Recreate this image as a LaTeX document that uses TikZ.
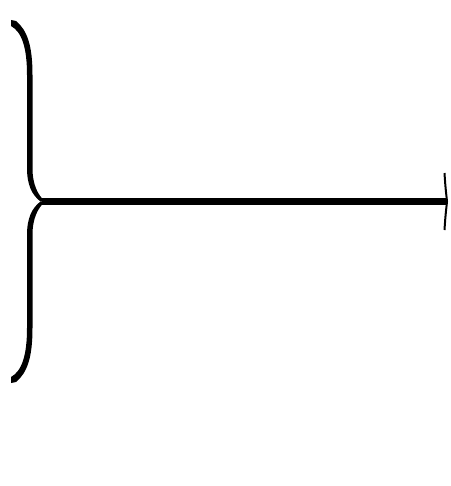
\documentclass[tikz,border=0pt]{standalone}
\begin{document}
\begin{tikzpicture}[x=1pt,y=-1pt]
\useasboundingbox (0,0) rectangle (450,486);
\tikzset{bracefill/.style={fill=black,draw=none}}
\coordinate (tip) at (42,201.5);
\coordinate (head) at (447,201.5);
% upper half of brace
\fill[bracefill] (11,20) -- (16,21) .. controls (27,30) and (32.5,45) .. (32.5,75) -- (32.5,168)
  .. controls (32.5,185) and (38,195) .. (45,201.5) -- (40.5,201.5)
  .. controls (32,195) and (27,185) .. (27,168) -- (27,75)
  .. controls (27,48) and (22,32) .. (11,26) -- cycle;
% lower half of brace
\fill[bracefill] (11,383) -- (16,382) .. controls (27,373) and (32.5,358) .. (32.5,328) -- (32.5,235)
  .. controls (32.5,218) and (38,208) .. (45,201.5) -- (40.5,201.5)
  .. controls (32,208) and (27,218) .. (27,235) -- (27,328)
  .. controls (27,355) and (22,371) .. (11,377) -- cycle;
% shaft
\draw[line width=6.5pt] (tip) -- (head);
% arrow head
\draw[line width=2pt] (444.5,173) .. controls (445.5,190) and (446.5,196) .. (447,201.5)
  .. controls (446.5,207) and (445.5,213) .. (444.5,230);
\end{tikzpicture}
\end{document}
